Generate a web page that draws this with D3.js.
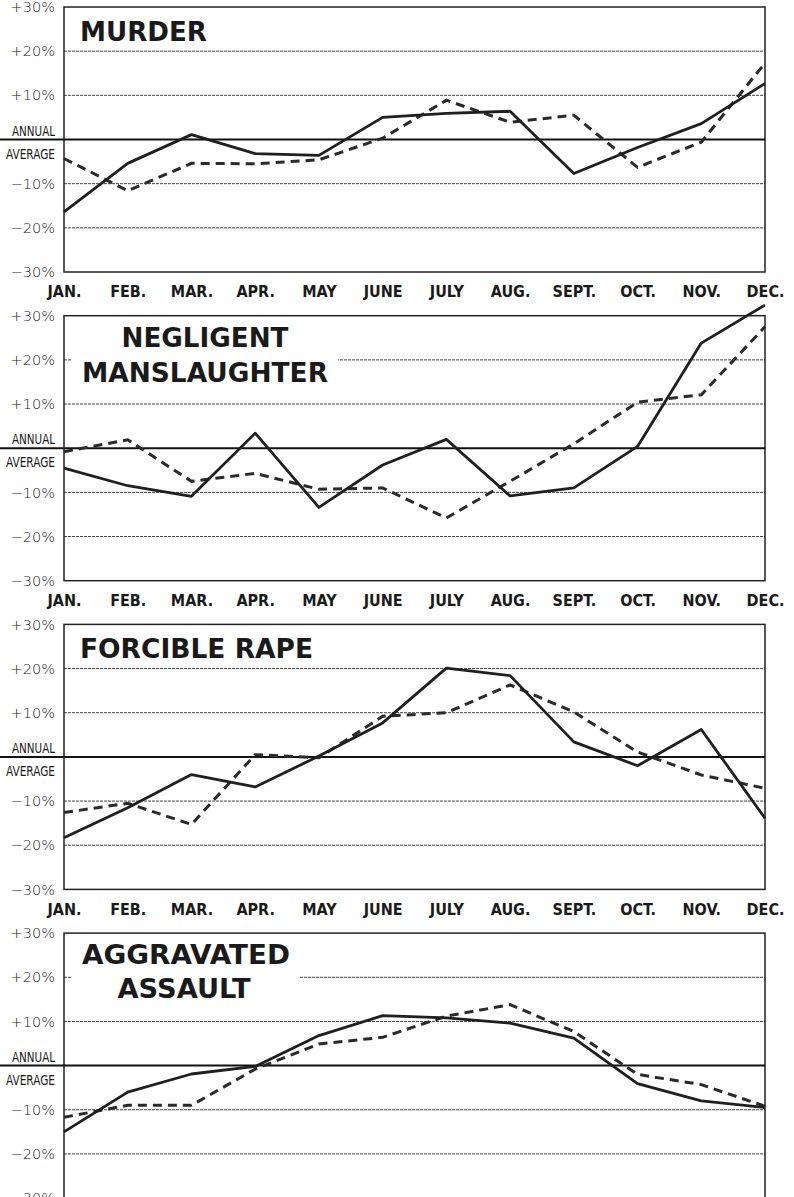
<!DOCTYPE html>
<html>
<head>
<meta charset="utf-8">
<script src="https://cdn.jsdelivr.net/npm/d3@7"></script>
<style>
  body { margin: 0; background: #fff; }
  svg { display: block; }
</style>
</head>
<body>
<div id="chart"></div>
<script>
// months along the bottom of each panel
var months = ["JAN.", "FEB.", "MAR.", "APR.", "MAY", "JUNE", "JULY", "AUG.", "SEPT.", "OCT.", "NOV.", "DEC."];
var yTicks = [30, 20, 10, -10, -20, -30];
var gridValues = [20, 10, -10, -20];

var crimeTitles = [["MURDER"], ["NEGLIGENT", "MANSLAUGHTER"], ["FORCIBLE RAPE"], ["AGGRAVATED", "ASSAULT"]];

// percent above / below annual average, solid line and dashed line
var murderSolid = [-16.4, -5.4, 1.1, -3.2, -3.6, 5.0, 5.9, 6.4, -7.7, -1.8, 3.6, 12.7];
var murderDashed = [-4.3, -11.6, -5.4, -5.5, -4.6, 0.3, 8.9, 3.9, 5.5, -6.3, -0.6, 17.3];
var manslaughterSolid = [-4.5, -8.5, -10.9, 3.4, -13.4, -3.8, 2.0, -10.8, -9.0, 0.4, 23.8, 32.4];
var manslaughterDashed = [-0.8, 1.9, -7.5, -5.7, -9.3, -9.0, -15.8, -7.5, 1.0, 10.4, 12.1, 27.5];
var rapeSolid = [-18.3, -11.5, -4.0, -6.8, 0.2, 7.7, 20.1, 18.4, 3.4, -2.0, 6.2, -13.9];
var rapeDashed = [-12.6, -10.5, -15.3, 0.5, -0.2, 9.2, 10.0, 16.3, 10.2, 1.1, -4.1, -7.1];
var assaultSolid = [-15.0, -6.0, -1.9, -0.2, 6.8, 11.3, 10.8, 9.6, 6.2, -4.1, -8.0, -9.5];
var assaultDashed = [-11.7, -9.0, -9.0, -0.8, 4.9, 6.4, 11.2, 13.8, 7.7, -2.0, -4.3, -9.2];

var solidSeries = [murderSolid, manslaughterSolid, rapeSolid, assaultSolid];
var dashedSeries = [murderDashed, manslaughterDashed, rapeDashed, assaultDashed];

var W = 794, H = 1197;
var left = 64, right = 765;
var panelH = 265, panelStep = 308.7, firstTop = 7;

// title placement per panel: anchor, x, baselines, target widths
var titleLayout = [
  {anchor: "start", x: 80, dy: [34], len: [127]},
  {anchor: "middle", x: 205, dy: [31], len: [167], second: {dy: 66, len: 246}},
  {anchor: "start", x: 80, dy: [34], len: [233]},
  {anchor: "middle", x: 186, dy: [31], len: [208], second: {dy: 65, len: 133, x: 184}}
];

var svg = d3.select("#chart").append("svg")
  .attr("width", W)
  .attr("height", H)
  .style("font-family", "'DejaVu Sans', sans-serif");

var x = d3.scalePoint().domain(months).range([left, right]);

crimeTitles.forEach(function(title, i) {
  var top = firstTop + i * panelStep;
  var y = d3.scaleLinear().domain([-30, 30]).range([top + panelH, top]);
  var g = svg.append("g").attr("class", "panel");

  // gridlines
  g.selectAll("line.grid").data(gridValues).enter().append("line")
    .attr("class", "grid")
    .attr("x1", left).attr("x2", right)
    .attr("y1", function(d) { return y(d); })
    .attr("y2", function(d) { return y(d); })
    .attr("stroke", "#444")
    .attr("stroke-width", 1)
    .attr("stroke-dasharray", "3,1");

  // title with white patch knocking out gridlines
  var lay = titleLayout[i];
  var tg = g.append("g");
  var patch = tg.append("rect").attr("fill", "#fff");
  tg.append("text")
    .attr("x", lay.x)
    .attr("y", top + lay.dy[0])
    .attr("text-anchor", lay.anchor)
    .attr("textLength", lay.len[0])
    .attr("lengthAdjust", "spacingAndGlyphs")
    .style("font-weight", "bold")
    .style("font-size", "26px")
    .attr("fill", "#1a1a1a")
    .text(title[0]);
  if (title.length > 1) {
    tg.append("text")
      .attr("x", lay.second.x || lay.x)
      .attr("y", top + lay.second.dy)
      .attr("text-anchor", "middle")
      .attr("textLength", lay.second.len)
      .attr("lengthAdjust", "spacingAndGlyphs")
      .style("font-weight", "bold")
      .style("font-size", "26px")
      .attr("fill", "#1a1a1a")
      .text(title[1]);
  }
  var bb = tg.node().getBBox();
  if (title.length > 1) {
    patch.attr("x", bb.x - 10).attr("y", bb.y - 2)
      .attr("width", bb.width + 20).attr("height", bb.height + 4);
  }

  // frame
  g.append("rect")
    .attr("x", left).attr("y", y(30))
    .attr("width", right - left).attr("height", y(-30) - y(30))
    .attr("fill", "none")
    .attr("stroke", "#222")
    .attr("stroke-width", 1.5);

  // annual average line
  g.append("line")
    .attr("x1", 0).attr("x2", right)
    .attr("y1", y(0)).attr("y2", y(0))
    .attr("stroke", "#111")
    .attr("stroke-width", 2);

  // y labels
  var yAxis = d3.axisLeft(y)
    .tickValues(yTicks)
    .tickSize(0)
    .tickPadding(9)
    .tickFormat(function(d) { return (d > 0 ? "+" : "\u2212") + Math.abs(d) + "%"; });
  var ya = g.append("g").attr("transform", "translate(" + left + ",0)").call(yAxis);
  ya.select(".domain").remove();
  ya.selectAll("text")
    .style("font-family", "'DejaVu Sans', sans-serif")
    .style("font-size", "14.5px")
    .style("font-weight", "200")
    .attr("fill", "#222");

  g.append("text")
    .attr("x", 55).attr("y", y(0) - 4)
    .attr("text-anchor", "end")
    .attr("textLength", 43)
    .attr("lengthAdjust", "spacingAndGlyphs")
    .style("font-family", "'DejaVu Sans Condensed', sans-serif")
    .style("font-size", "14px")
    .attr("fill", "#1a1a1a")
    .text("ANNUAL");
  g.append("text")
    .attr("x", 55).attr("y", y(0) + 19)
    .attr("text-anchor", "end")
    .attr("textLength", 49)
    .attr("lengthAdjust", "spacingAndGlyphs")
    .style("font-family", "'DejaVu Sans Condensed', sans-serif")
    .style("font-size", "14px")
    .attr("fill", "#1a1a1a")
    .text("AVERAGE");

  // month labels (the last panel's fall below the page in the reference)
  if (y(-30) + 30 < H) {
    var xAxis = d3.axisBottom(x).tickSize(0).tickPadding(14);
    var xa = g.append("g").attr("transform", "translate(0," + y(-30) + ")").call(xAxis);
    xa.select(".domain").remove();
    xa.selectAll("text")
      .style("font-family", "'Liberation Sans Narrow', 'DejaVu Sans Condensed', sans-serif")
      .style("font-size", "16px")
      .style("font-weight", "bold")
      .attr("fill", "#1a1a1a");
  }

  // series lines
  var line = d3.line()
    .x(function(d, j) { return x(months[j]); })
    .y(function(d) { return y(d); });

  g.append("path")
    .datum(dashedSeries[i])
    .attr("d", line)
    .attr("fill", "none")
    .attr("stroke", "#2a2a2a")
    .attr("stroke-width", 3)
    .attr("stroke-dasharray", "9,6");

  g.append("path")
    .datum(solidSeries[i])
    .attr("d", line)
    .attr("fill", "none")
    .attr("stroke", "#1f1f1f")
    .attr("stroke-width", 2.8)
    .attr("stroke-linejoin", "round");
});
</script>
</body>
</html>
